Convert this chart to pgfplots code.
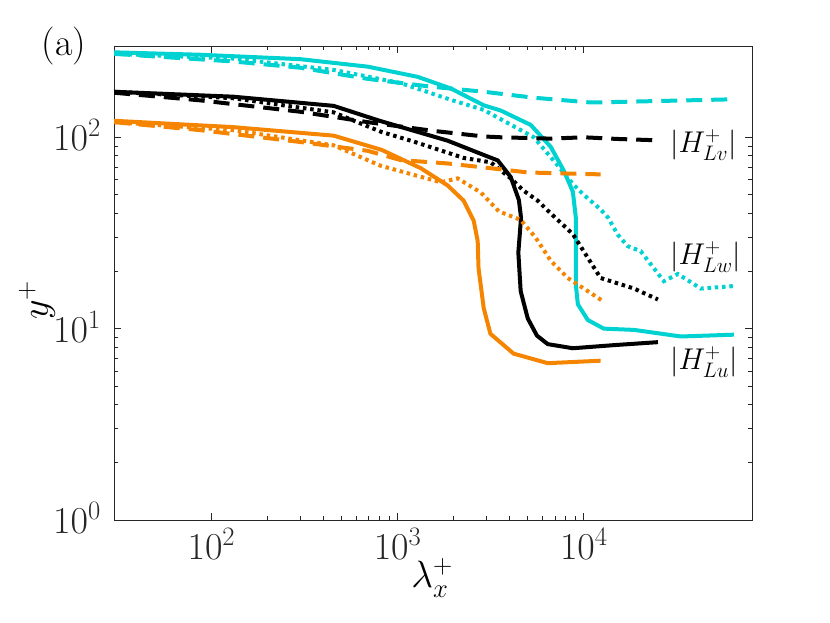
\RequirePackage{fix-cm}
\documentclass[border=0pt]{standalone}
\usepackage{pgfplots}
\pgfplotsset{compat=1.18}
\definecolor{mcyan}{rgb}{0.0,0.82,0.82}
\definecolor{morange}{rgb}{0.96,0.52,0.0}
\definecolor{axgray}{rgb}{0.15,0.15,0.15}
\begin{document}
\fontsize{38}{44}\selectfont
\begin{tikzpicture}
\path[use as bounding box] (-114pt,-103pt) rectangle (716pt,520pt);
\begin{axis}[
  at={(0pt,0pt)}, anchor=south west,
  scale only axis, width=638pt, height=474pt,
  xmode=log, ymode=log,
  xmin=30, xmax=80000, ymin=1, ymax=300,
  xtick={100,1000,10000}, ytick={1,10,100},
  axis line style={draw=axgray, line width=0.8pt},
  every tick/.style={draw=axgray, line width=0.8pt},
  major tick length=7pt, minor tick length=4pt,
  tick align=inside,
  xticklabel style={font=\fontsize{38}{44}\selectfont, text=axgray, inner sep=2pt, yshift=-6pt},
  yticklabel style={font=\fontsize{38}{44}\selectfont, text=axgray, inner sep=2pt, xshift=-11pt, yshift=2pt},
  every axis plot/.append style={line width=4pt},
]
% cyan solid
\addplot[mcyan, solid] coordinates {(30,278) (87,270) (300,256) (690,234) (1280,207) (1930,180) (2900,147) (3580,138) (5190,116) (6650,89) (7800,67) (8730,52) (9060,38) (9060,25) (9060,17) (9290,13.4) (10500,11.1) (12800,10) (18600,9.85) (33200,9.1) (64000,9.3)};
% cyan dashed
\addplot[mcyan, dash pattern=on 16pt off 9pt] coordinates {(30,273) (131,249) (300,231) (690,202) (1500,184) (2900,173) (5390,161) (10900,152) (15200,153) (64000,158)};
% cyan dotted
\addplot[mcyan, dash pattern=on 3.5pt off 3.8pt] coordinates {(30,273) (130,258) (453,225) (1040,192) (1930,157) (2900,139) (5390,100) (7100,73) (8730,57) (10000,50) (12300,42) (13500,38) (15200,31) (17200,27) (20200,25.4) (26900,17.7) (32000,19.3) (42500,16.2) (64000,16.7)};
% black solid
\addplot[black, solid] coordinates {(30,173) (131,163) (453,146) (800,122) (1857,96) (2795,82) (3450,75.7) (4050,62) (4480,47) (4600,38) (4500,28.7) (4450,25) (4580,15.7) (5000,11.3) (5600,9.2) (6400,8.3) (8730,7.9) (14500,8.2) (25000,8.5)};
% black dashed
\addplot[black, dash pattern=on 16pt off 9pt] coordinates {(30,171) (87,156) (300,136) (690,120) (1560,108) (2900,101) (3580,100) (6650,98.4) (10000,100) (15200,98) (25000,96.4)};
% black dotted
\addplot[black, dash pattern=on 3.5pt off 3.8pt] coordinates {(30,173) (131,160) (453,135) (811,107) (1219,95) (2265,78) (3162,74) (4050,61) (4750,52.6) (5660,46.6) (6400,41.4) (8730,31.2) (12300,18.4) (18600,16.2) (25000,14.2)};
% orange solid
\addplot[morange, solid] coordinates {(30,122) (131,113) (453,102) (820,86) (1330,69) (1857,56) (2265,46.6) (2563,36.6) (2692,28.7) (2720,20.7) (2900,12.8) (3150,9.4) (4200,7.4) (6400,6.6) (12300,6.8)};
% orange dashed
\addplot[morange, dash pattern=on 16pt off 9pt] coordinates {(30,120) (87,109) (300,94.5) (690,85) (1040,76) (1857,73) (3580,68) (5000,65.5) (6650,65) (12300,64)};
% orange dotted
\addplot[morange, dash pattern=on 3.5pt off 3.8pt] coordinates {(30,120) (131,109) (453,90.8) (811,71) (1703,58.2) (2100,61) (2795,51.5) (3500,41) (4580,37) (5500,30) (6650,22.6) (8200,18.4) (10000,16.2) (12700,13.9)};
\end{axis}
\begin{scope}[every node/.style={font=\fontsize{30}{36}\selectfont, text=black, anchor=west, inner sep=0pt}]
\node at (556pt,375pt) {$|H^+_{Lv}|$};
\node at (556pt,263pt) {$|H^+_{Lw}|$};
\node at (556pt,158pt) {$|H^+_{Lu}|$};
\end{scope}
\node[text=black] at (318pt,-58pt) {$\lambda_x^+$};
\node[rotate=90, text=black] at (-77pt,220pt) {$y^+$};
\node[text=black] at (-50pt,474pt) {(a)};
\end{tikzpicture}
\end{document}
